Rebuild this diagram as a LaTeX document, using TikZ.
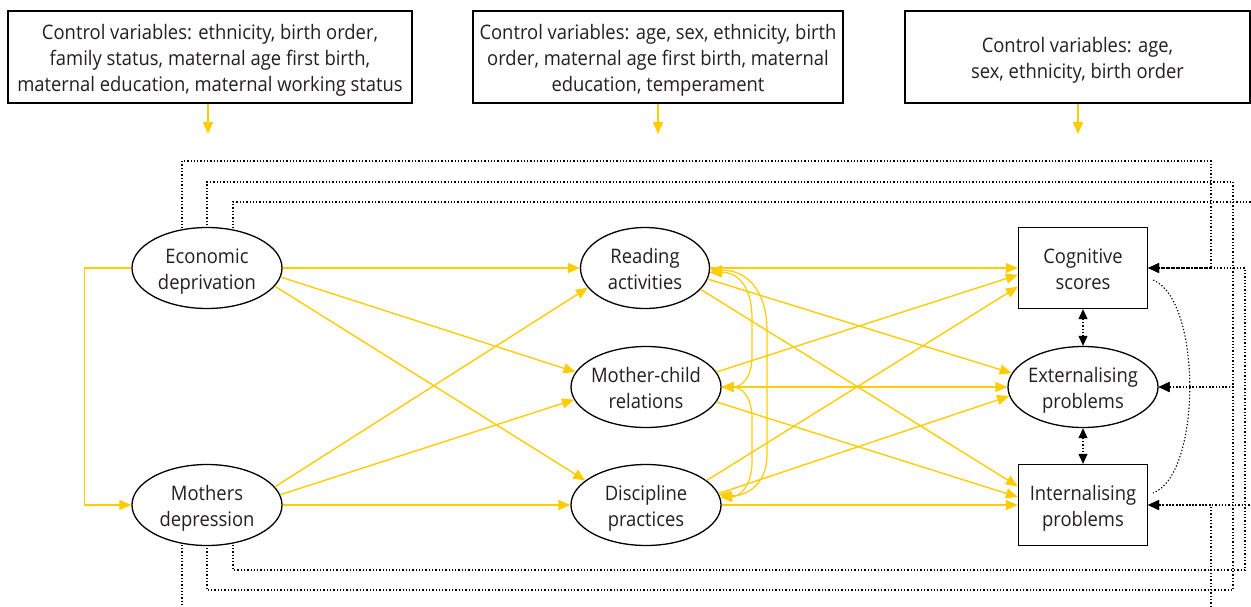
\documentclass[tikz,border=0pt]{standalone}
\usepackage{fontspec}
\setmainfont{Open Sans}[FakeStretch=0.92]
\usetikzlibrary{arrows.meta,shapes.geometric,backgrounds}
\definecolor{ylw}{RGB}{255,204,0}
\definecolor{txt}{RGB}{35,31,32}
\newcommand{\ctext}[1]{\makebox[0pt]{\raisebox{-8pt}[0pt][0pt]{\begin{tabular}{@{}c@{}}#1\end{tabular}}}}
\newcommand{\btext}[1]{\raisebox{-8pt}[0pt][0pt]{\begin{tabular}{@{}c@{}}#1\end{tabular}}}
\begin{document}
\begin{tikzpicture}[x=1pt,y=-1pt,
  every node/.style={font=\fontsize{20}{26}\selectfont,text=txt},
  ctrlbox/.style={draw,line width=1.2pt,minimum height=92pt,inner sep=0pt,fill=white},
  oval/.style={ellipse,draw,line width=1.3pt,minimum width=150pt,minimum height=81pt,inner sep=0pt,fill=white},
  sq/.style={rectangle,draw,line width=1.3pt,minimum width=129pt,minimum height=81pt,inner sep=0pt,fill=white},
  ya/.style={draw=ylw,line width=1.4pt,-{Triangle[length=12pt,width=10pt]}},
  yb/.style={draw=ylw,line width=1.2pt,{Triangle[length=12pt,width=10pt]}-{Triangle[length=12pt,width=10pt]}},
  dl/.style={line width=1.1pt,dash pattern=on 1.3pt off 2pt},
  da/.style={dl,-{Triangle[length=11pt,width=10pt]}},
  dd/.style={dl,{Triangle[length=10pt,width=9pt]}-{Triangle[length=10pt,width=9pt]}}]
\useasboundingbox (0,0) rectangle (1251,606);

% control boxes
\node[ctrlbox,minimum width=404pt] (c1) at (210,57) {\btext{Control variables: ethnicity, birth order,\\family status, maternal age first birth,\\maternal education, maternal working status}};
\node[ctrlbox,minimum width=370pt] (c2) at (658,57) {\btext{Control variables: age, sex, ethnicity, birth\\order, maternal age first birth, maternal\\education, temperament}};
\node[ctrlbox,minimum width=345pt] (c3) at (1077.5,57) {\btext{Control variables: age,\\sex, ethnicity, birth order}};
\coordinate (t1) at (208,134);
\coordinate (t2) at (658,134);
\coordinate (t3) at (1078,134);
\draw[ya] (c1.south -| t1) -- (t1);
\draw[ya] (c2.south -| t2) -- (t2);
\draw[ya] (c3.south -| t3) -- (t3);

% main nodes
\node[oval] (econ) at (207,268) {\ctext{Economic\\deprivation}};
\node[oval] (moth) at (207,505) {\ctext{Mothers\\depression}};
\node[oval,minimum width=129pt] (read) at (645,268) {\ctext{Reading\\activities}};
\node[oval] (mc) at (646,387) {\ctext{Mother-child\\relations}};
\node[oval] (disc) at (646,505) {\ctext{Discipline\\practices}};
\node[sq] (cog) at (1083,268) {\ctext{Cognitive\\scores}};
\node[oval] (ext) at (1083,387) {\ctext{Externalising\\problems}};
\node[sq] (int) at (1083,505) {\ctext{Internalising\\problems}};

% yellow paths
\draw[ya] (econ.east) -- (read.west);
\draw[ya] (econ.-7) -- (mc.168);
\draw[ya] (econ.-15.6) -- (disc.158);
\draw[ya] (econ.west) -- ++(-47,0) |- (moth.west);
\draw[ya] (moth.15) -- (read.-161);
\draw[ya] (moth.8) -- (mc.190);
\draw[ya] (moth.east) -- (disc.west);
\draw[ya] (read.east) -- (cog.west);
\draw[ya] (read.-10) -- (ext.169);
\draw[ya] (read.-21) -- (int.164);
\draw[ya] (mc.12) -- (cog.186);
\draw[ya] (mc.east) -- (ext.west);
\draw[ya] (mc.-12) -- (int.173);
\draw[ya] (disc.22) -- (cog.196.5);
\draw[ya] (disc.9) -- (ext.187.6);
\draw[ya] (disc.east) -- (int.west);

% correlations among mediators
\draw[yb] (read.-4) .. controls (740,272) and (752,290) .. (752,318) -- (752,356) .. controls (752,380) and (740,387) .. (mc.east);
\draw[yb] (mc.east) .. controls (740,387) and (752,395) .. (752,418) -- (752,462) .. controls (752,485) and (740,497) .. (disc.6);
\draw[yb] (read.-2) .. controls (750,270) and (767,295) .. (767,330) -- (767,455) .. controls (767,485) and (745,497) .. (disc.8);

% outcome correlations
\draw[dd] (cog.south) -- (ext.north);
\draw[dd] (ext.south) -- (int.north);
\draw[dl] ([xshift=5pt,yshift=-12pt]cog.east) .. controls (1202,300) and (1202,474) .. ([xshift=5pt,yshift=12pt]int.east);

% direct dotted paths
\begin{scope}[on background layer]
\clip (0,0) rectangle (1251,606);
\draw[da] ([xshift=-25pt]econ.center) |- (1211,161) |- (cog.east);
\draw[da] (econ.center) |- (1233,182) |- (ext.east);
\draw[da] ([xshift=26pt]econ.center) |- (1258,202) |- (int.east);
\draw[da] ([xshift=26pt]moth.center) |- (1245,570) |- (cog.east);
\draw[da] (moth.center) |- (1233,590) |- (ext.east);
\draw[da] ([xshift=-25pt]moth.center) |- (1211,614) |- (int.east);
\end{scope}
\end{tikzpicture}
\end{document}
